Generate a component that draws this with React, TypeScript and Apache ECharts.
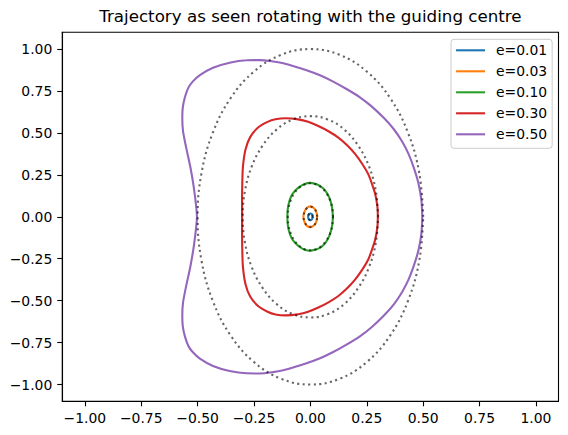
import React, { useEffect, useRef } from "react";
import * as echarts from "echarts";

// ---- data ----
const LABELS = ["e=0.01", "e=0.03", "e=0.10", "e=0.30", "e=0.50"];
const COLORS = ["#1f77b4", "#ff7f0e", "#2ca02c", "#d62728", "#9467bd"];
const TICKS = [-1, -0.75, -0.5, -0.25, 0, 0.25, 0.5, 0.75, 1];

// solid trajectories (x, y), upper halves (right end -> left end);
// the lower halves are the mirror images seen in the picture
const TRAJ_001_TOP = [[0.01, 0], [0.0087, 0.01], [0.005, 0.0173], [0, 0.02], [-0.005, 0.0173], [-0.0087, 0.01], [-0.01, 0]];
const TRAJ_003_TOP = [[0.03, 0], [0.026, 0.03], [0.015, 0.052], [0, 0.062], [-0.015, 0.054], [-0.026, 0.031], [-0.031, 0]];
const TRAJ_010_TOP = [
  [0.1, 0], [0.097, 0.045], [0.092, 0.08], [0.082, 0.12], [0.065, 0.158], [0.042, 0.185], [0.02, 0.197],
  [-0.002, 0.202], [-0.025, 0.196], [-0.047, 0.18], [-0.068, 0.155], [-0.084, 0.125], [-0.095, 0.085],
  [-0.101, 0.04], [-0.102, 0],
];
const TRAJ_030_TOP = [
  [0.299, 0], [0.297, 0.06], [0.287, 0.137], [0.272, 0.2], [0.256, 0.256], [0.23, 0.315], [0.198, 0.375],
  [0.164, 0.425], [0.124, 0.472], [0.08, 0.51], [0.035, 0.541], [-0.01, 0.566], [-0.054, 0.581],
  [-0.11, 0.588], [-0.155, 0.582], [-0.19, 0.566], [-0.232, 0.532], [-0.267, 0.475], [-0.288, 0.4],
  [-0.299, 0.3], [-0.302, 0.2], [-0.303, 0.1], [-0.303, 0],
];
const TRAJ_050_TOP = [
  [0.496, 0], [0.492, 0.1], [0.479, 0.2], [0.459, 0.29], [0.435, 0.375], [0.406, 0.45], [0.37, 0.522],
  [0.325, 0.59], [0.27, 0.66], [0.218, 0.714], [0.16, 0.762], [0.101, 0.806], [0.04, 0.845],
  [-0.02, 0.875], [-0.077, 0.899], [-0.12, 0.915], [-0.165, 0.926], [-0.225, 0.934], [-0.284, 0.933],
  [-0.358, 0.919], [-0.432, 0.889], [-0.49, 0.845], [-0.522, 0.806], [-0.541, 0.77], [-0.557, 0.71],
  [-0.566, 0.65], [-0.568, 0.59], [-0.565, 0.514], [-0.551, 0.414], [-0.532, 0.295], [-0.517, 0.176],
  [-0.506, 0.057], [-0.503, 0],
];

// dotted epicycle ellipses (x, y), upper halves
const EPI_001_TOP = [[0.01, 0], [0.0087, 0.01], [0.005, 0.0173], [0, 0.02], [-0.005, 0.0173], [-0.0087, 0.01], [-0.01, 0]];
const EPI_003_TOP = [[0.03, 0], [0.026, 0.03], [0.015, 0.052], [0, 0.06], [-0.015, 0.052], [-0.026, 0.03], [-0.03, 0]];
const EPI_010_TOP = [
  [0.1, 0], [0.097, 0.052], [0.087, 0.1], [0.071, 0.141], [0.05, 0.173], [0.026, 0.193], [0, 0.2],
  [-0.026, 0.193], [-0.05, 0.173], [-0.071, 0.141], [-0.087, 0.1], [-0.097, 0.052], [-0.1, 0],
];
const EPI_030_TOP = [
  [0.3, 0], [0.29, 0.155], [0.26, 0.3], [0.212, 0.424], [0.15, 0.52], [0.078, 0.58], [0, 0.6],
  [-0.078, 0.58], [-0.15, 0.52], [-0.212, 0.424], [-0.26, 0.3], [-0.29, 0.155], [-0.3, 0],
];
const EPI_050_TOP = [
  [0.5, 0], [0.483, 0.259], [0.433, 0.5], [0.354, 0.707], [0.25, 0.866], [0.129, 0.966], [0, 1],
  [-0.129, 0.966], [-0.25, 0.866], [-0.354, 0.707], [-0.433, 0.5], [-0.483, 0.259], [-0.5, 0],
];

const TRAJS = [TRAJ_001_TOP, TRAJ_003_TOP, TRAJ_010_TOP, TRAJ_030_TOP, TRAJ_050_TOP];
const EPIS = [EPI_001_TOP, EPI_003_TOP, EPI_010_TOP, EPI_030_TOP, EPI_050_TOP];

// close a curve: upper half, then its mirror going back to the start
const closeLoop = (top: number[][]) => {
  const bottom = top.slice(0, -1).reverse().map(([x, y]) => [x, -y]);
  return [...top, ...bottom];
};

const FONT = "DejaVu Sans";
const fmt = (v: number) => (v < 0 ? "\u2212" : "") + Math.abs(v).toFixed(2);

export default function App() {
  const ref = useRef<HTMLDivElement>(null);
  useEffect(() => {
    if (!ref.current) return;
    const chart = echarts.init(ref.current, null, { renderer: "svg" });
    const series: any[] = [];
    LABELS.forEach((name, i) => {
      series.push({
        name,
        type: "line",
        data: closeLoop(TRAJS[i]),
        smooth: 0.3,
        symbol: "none",
        lineStyle: { color: COLORS[i], width: 2.1 },
        itemStyle: { color: COLORS[i] },
      });
      series.push({
        name: "epicycle " + name,
        type: "line",
        data: closeLoop(EPIS[i]),
        smooth: 0.4,
        symbol: "none",
        lineStyle: { color: "#000", opacity: 0.6, width: 2.1, type: [2.1, 3.4], cap: "butt" },
        itemStyle: { color: "#000" },
      });
    });
    const axisCommon = {
      type: "value",
      min: -1.1,
      max: 1.1,
      axisLine: { show: true, onZero: false, lineStyle: { color: "#000", width: 1.1 } },
      axisTick: { show: true, length: 5, customValues: TICKS, lineStyle: { color: "#000", width: 1.1 } },
      axisLabel: {
        customValues: TICKS,
        formatter: fmt,
        color: "#000",
        fontSize: 13.9,
        fontFamily: FONT,
        margin: 10,
      },
      splitLine: { show: false },
    };
    chart.setOption({
      animation: false,
      grid: {
        left: 62.3,
        top: 32.3,
        width: 496.2,
        height: 369,
        show: true,
        borderColor: "#000",
        borderWidth: 1.1,
        backgroundColor: "transparent",
      },
      xAxis: { ...axisCommon },
      yAxis: { ...axisCommon },
      legend: {
        data: LABELS,
        orient: "vertical",
        left: 451,
        top: 39.3,
        padding: [4, 5, 7, 4],
        itemWidth: 29,
        itemHeight: 14,
        itemGap: 7,
        selectedMode: false,
        itemStyle: { opacity: 0 },
        lineStyle: { width: 2.1 },
        backgroundColor: "rgba(255,255,255,0.8)",
        borderColor: "#cccccc",
        borderWidth: 1,
        borderRadius: 3,
        textStyle: { fontSize: 13.9, fontFamily: FONT, color: "#000", padding: [0, 0, 0, 6] },
      },
      graphic: [
        {
          type: "text",
          x: 310.4,
          y: 24.5,
          style: {
            text: "Trajectory as seen rotating with the guiding centre",
            fontSize: 16.7,
            fontFamily: FONT,
            fill: "#000",
            textAlign: "center",
            textVerticalAlign: "bottom",
          },
        },
      ],
      series,
    });
    return () => chart.dispose();
  }, []);
  return (
    <div
      ref={ref}
      style={{ position: "fixed", left: 0, top: 0, width: 568, height: 435, background: "#fff" }}
    />
  );
}
